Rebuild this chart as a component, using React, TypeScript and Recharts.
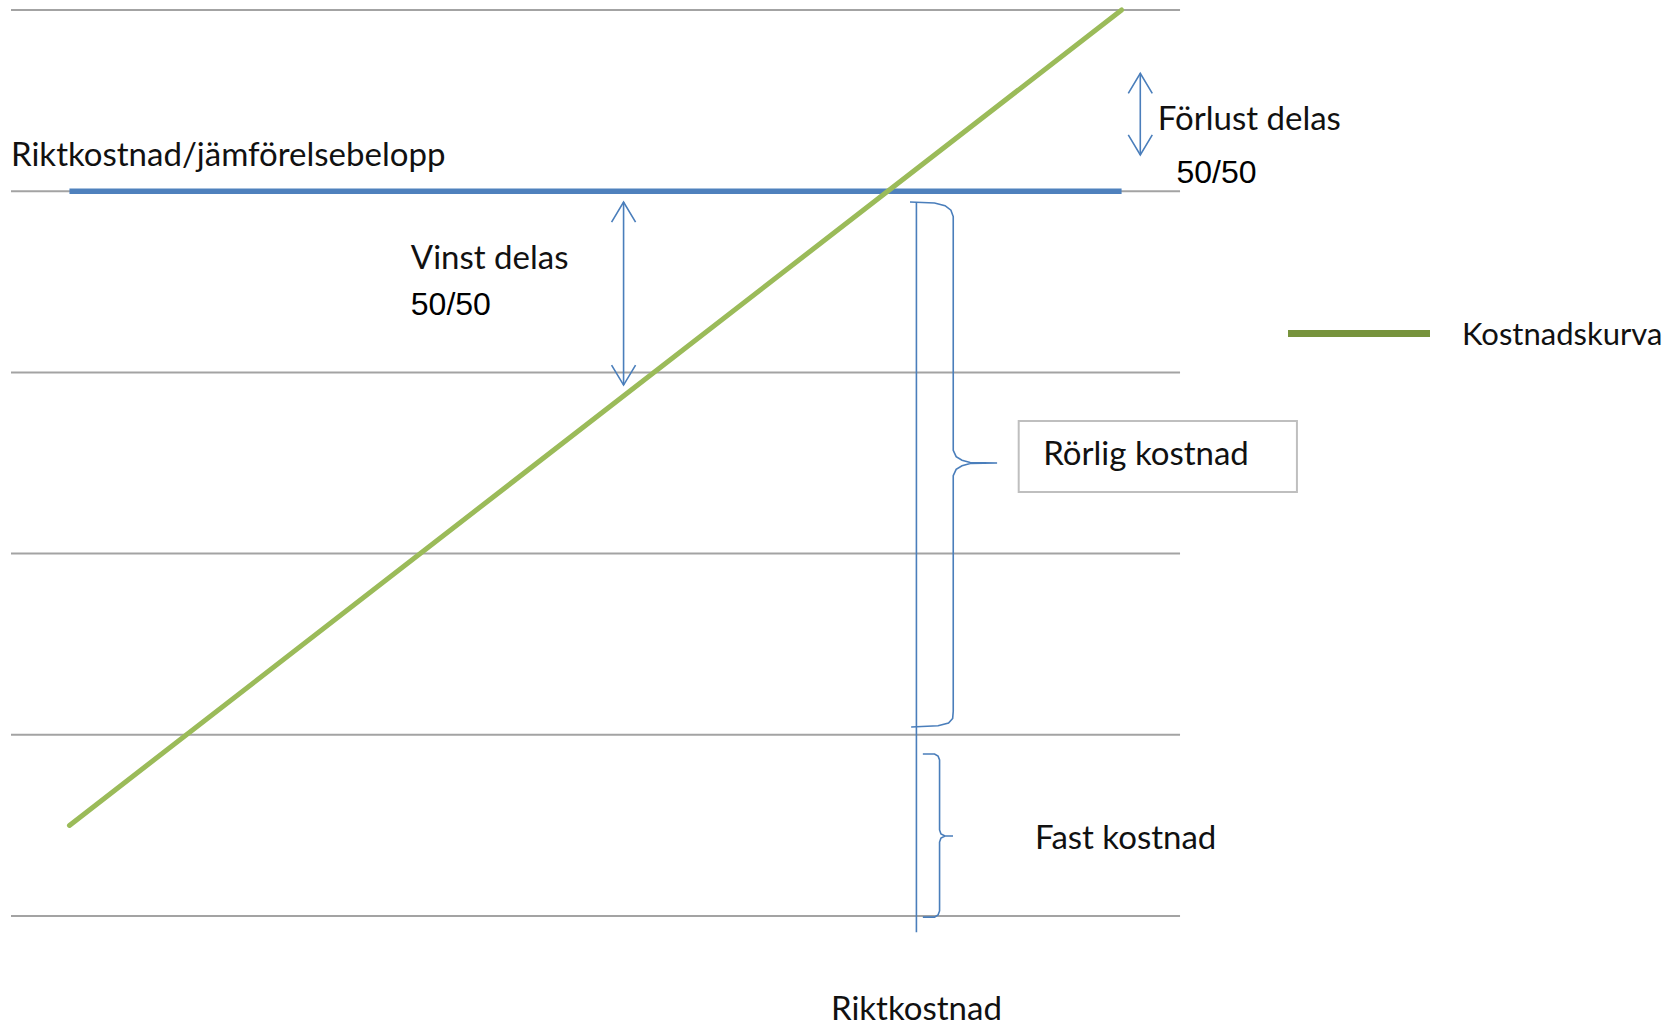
import React from "react"
import {
  ComposedChart,
  Legend,
  Line,
  ReferenceArea,
  ReferenceDot,
  ReferenceLine,
  XAxis,
  YAxis,
} from "recharts"

// horizontal guide levels and their span on the x scale
const gridLevels = [0, 1, 2, 3, 4, 5]
const gridSpan = [0, 100]

// series
const costCurve = [
  { x: 5, y: 0.5 },
  { x: 95, y: 5 },
]
const targetCost = [
  { x: 5, y: 4 },
  { x: 95, y: 4 },
]
const targetMarker = [
  { x: 77.45, y: 3.935 },
  { x: 77.45, y: -0.09 },
]

// double arrows
const profitArrow = [
  { x: 52.4, y: 3.94 },
  { x: 52.4, y: 2.93 },
]
const lossArrow = [
  { x: 96.6, y: 4.65 },
  { x: 96.6, y: 4.2 },
]

// curly braces
const variableBrace = [
  { x: 76.9, y: 3.94 },
  { x: 79.0, y: 3.935 },
  { x: 79.9, y: 3.92 },
  { x: 80.4, y: 3.895 },
  { x: 80.6, y: 3.86 },
  { x: 80.6, y: 2.57 },
  { x: 80.85, y: 2.535 },
  { x: 81.35, y: 2.515 },
  { x: 82.05, y: 2.503 },
  { x: 84.35, y: 2.5 },
  { x: 82.05, y: 2.497 },
  { x: 81.35, y: 2.485 },
  { x: 80.85, y: 2.465 },
  { x: 80.6, y: 2.43 },
  { x: 80.6, y: 1.13 },
  { x: 80.55, y: 1.09 },
  { x: 80.2, y: 1.065 },
  { x: 79.3, y: 1.05 },
  { x: 77.0, y: 1.043 },
]
const fixedBrace = [
  { x: 78.0, y: 0.894 },
  { x: 79.0, y: 0.894 },
  { x: 79.3, y: 0.883 },
  { x: 79.43, y: 0.861 },
  { x: 79.43, y: 0.475 },
  { x: 79.55, y: 0.453 },
  { x: 79.9, y: 0.4415 },
  { x: 80.58, y: 0.4415 },
  { x: 79.9, y: 0.4415 },
  { x: 79.55, y: 0.43 },
  { x: 79.43, y: 0.408 },
  { x: 79.43, y: 0.028 },
  { x: 79.3, y: 0.006 },
  { x: 79.0, y: -0.006 },
  { x: 78.0, y: -0.006 },
]

// label box around "Rörlig kostnad"
const variableBox = { x1: 86.2, x2: 110.0, y1: 2.34, y2: 2.732 }

const textLabels = [
  { text: "Riktkostnad/jämförelsebelopp", x: 0, y: 4.139 },
  { text: "Vinst delas", x: 34.2, y: 3.571 },
  { text: "Förlust delas", x: 98.1, y: 4.338 },
  { text: "Rörlig kostnad", x: 88.3, y: 2.489 },
  { text: "Fast kostnad", x: 87.6, y: 0.37 },
]
const shareLabels = [
  { text: "50/50", x: 34.2, y: 3.317 },
  { text: "50/50", x: 99.7, y: 4.045 },
]
const markerCaption = { text: "Riktkostnad", y: -0.574 }

const BLUE = "#4f81bd"
const LINE_BLUE = "#4a7ebb"
const GREEN = "#9bbb59"
const LEGEND_GREEN = "#77933c"
const GRID = "#a3a3a3"
const BODY_FONT = "Lato, 'Open Sans', sans-serif"
const DIGIT_FONT = "'Liberation Sans', Arial, sans-serif"
const BODY_SIZE = 33

const arrowHead = (p: any) => {
  const dir = p.index === 0 ? 1 : -1
  return (
    <path
      key={`head-${p.index}`}
      d={`M${p.cx - 12},${p.cy + 20 * dir}L${p.cx},${p.cy}L${p.cx + 12},${p.cy + 20 * dir}`}
      fill="none"
      stroke={LINE_BLUE}
      strokeWidth={1.6}
    />
  )
}

export default function App() {
  return (
    <div style={{ position: "absolute", left: 0, top: 0, background: "#fff" }}>
      <ComposedChart width={1666} height={1026} margin={{ top: 0, right: 0, bottom: 0, left: 0 }}>
        <XAxis type="number" dataKey="x" domain={[-0.941, 141.57]} allowDataOverflow hide />
        <YAxis type="number" dataKey="y" domain={[-0.607, 5.055]} allowDataOverflow hide />

        {gridLevels.map((level) => (
          <ReferenceLine
            key={level}
            segment={[
              { x: gridSpan[0], y: level },
              { x: gridSpan[1], y: level },
            ]}
            stroke={GRID}
            strokeWidth={2}
          />
        ))}

        <ReferenceArea
          x1={variableBox.x1}
          x2={variableBox.x2}
          y1={variableBox.y1}
          y2={variableBox.y2}
          fill="#fff"
          fillOpacity={1}
          stroke="#bfbfbf"
          strokeWidth={2}
        />

        <Line
          data={targetMarker}
          dataKey="y"
          stroke={LINE_BLUE}
          strokeWidth={1.6}
          dot={false}
          activeDot={false}
          legendType="none"
          isAnimationActive={false}
        />
        <Line
          data={variableBrace}
          dataKey="y"
          stroke={LINE_BLUE}
          strokeWidth={1.6}
          dot={false}
          activeDot={false}
          legendType="none"
          isAnimationActive={false}
        />
        <Line
          data={fixedBrace}
          dataKey="y"
          stroke={LINE_BLUE}
          strokeWidth={1.6}
          dot={false}
          activeDot={false}
          legendType="none"
          isAnimationActive={false}
        />
        <Line
          data={profitArrow}
          dataKey="y"
          stroke={LINE_BLUE}
          strokeWidth={1.6}
          dot={arrowHead}
          activeDot={false}
          legendType="none"
          isAnimationActive={false}
        />
        <Line
          data={lossArrow}
          dataKey="y"
          stroke={LINE_BLUE}
          strokeWidth={1.6}
          dot={arrowHead}
          activeDot={false}
          legendType="none"
          isAnimationActive={false}
        />
        <Line
          data={targetCost}
          dataKey="y"
          stroke={BLUE}
          strokeWidth={5.5}
          dot={false}
          activeDot={false}
          legendType="none"
          isAnimationActive={false}
        />
        <Line
          data={costCurve}
          dataKey="y"
          name="Kostnadskurva"
          stroke={GREEN}
          strokeWidth={5}
          strokeLinecap="round"
          dot={false}
          activeDot={false}
          isAnimationActive={false}
        />

        {textLabels.map((l) => (
          <ReferenceDot
            key={l.text}
            x={l.x}
            y={l.y}
            r={0}
            ifOverflow="visible"
            shape={(p: any) => (
              <text x={p.cx} y={p.cy} fontFamily={BODY_FONT} fontSize={BODY_SIZE} fill="#111">
                {l.text}
              </text>
            )}
          />
        ))}
        {shareLabels.map((l) => (
          <ReferenceDot
            key={`${l.text}-${l.x}`}
            x={l.x}
            y={l.y}
            r={0}
            ifOverflow="visible"
            shape={(p: any) => (
              <text x={p.cx} y={p.cy} fontFamily={DIGIT_FONT} fontSize={32} fill="#000">
                {l.text}
              </text>
            )}
          />
        ))}
        <ReferenceDot
          x={targetMarker[0].x}
          y={markerCaption.y}
          r={0}
          ifOverflow="visible"
          shape={(p: any) => (
            <text x={p.cx} y={p.cy} textAnchor="middle" fontFamily={BODY_FONT} fontSize={BODY_SIZE} fill="#111">
              {markerCaption.text}
            </text>
          )}
        />

        <Legend
          layout="horizontal"
          verticalAlign="middle"
          align="center"
          wrapperStyle={{ left: 1288, top: 313, width: 378 }}
          content={({ payload }: any) => (
            <div style={{ display: "flex", alignItems: "center", height: 40 }}>
              {(payload || [])
                .filter((e: any) => e.type !== "none")
                .map((e: any) => (
                  <React.Fragment key={e.value}>
                    <span
                      style={{
                        display: "inline-block",
                        flexShrink: 0,
                        width: 142,
                        height: 7,
                        background: LEGEND_GREEN,
                      }}
                    />
                    <span
                      style={{
                        marginLeft: 32,
                        fontFamily: BODY_FONT,
                        fontSize: 31,
                        lineHeight: "40px",
                        color: "#111",
                        whiteSpace: "nowrap",
                      }}
                    >
                      {e.value}
                    </span>
                  </React.Fragment>
                ))}
            </div>
          )}
        />
      </ComposedChart>
    </div>
  )
}
